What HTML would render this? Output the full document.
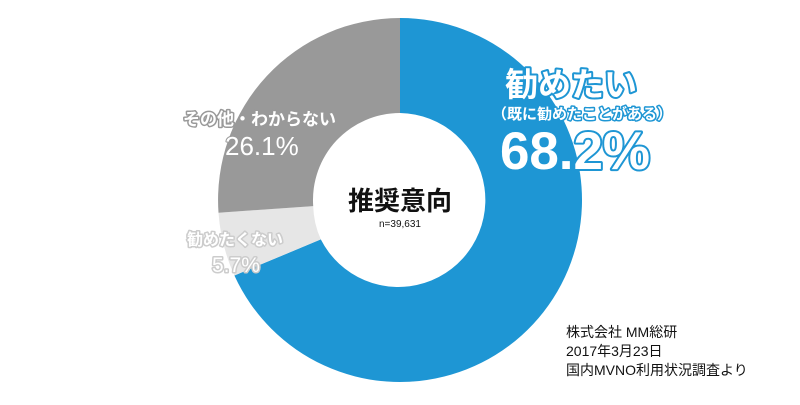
<!DOCTYPE html>
<html><head><meta charset="utf-8"><style>
body{margin:0;background:#fff;}
svg text{font-family:"Liberation Sans","Noto Sans CJK JP",sans-serif;}
</style></head><body>
<svg width="800" height="400" viewBox="0 0 800 400" xmlns="http://www.w3.org/2000/svg">
<path d="M400,18 A182,182 0 1,1 234.4,275.5 L320.8,239.4 A87,87 0 1,0 400,113 Z" fill="#1e96d4"/>
<path d="M234.4,275.5 A182,182 0 0,1 218.5,212.7 L313.2,206.1 A87,87 0 0,0 320.8,239.4 Z" fill="#e6e6e6"/>
<path d="M218.5,212.7 A182,182 0 0,1 400,18 L400,113 A87,87 0 0,0 313.2,206.1 Z" fill="#999999"/>
<g paint-order="stroke" stroke-linejoin="round" font-weight="bold">
<text x="505" y="96" font-size="33" fill="#fff" stroke="#1e96d4" stroke-width="4">勧めたい</text>
<text x="492" y="119" font-size="15" fill="#fff" stroke="#1e96d4" stroke-width="3">（既に勧めたことがある）</text>
<text x="500" y="169" font-size="53" fill="#fff" stroke="#1e96d4" stroke-width="4" textLength="150">68.2%</text>
<text x="183" y="125" font-size="17" fill="#fff" stroke="#999" stroke-width="3">その他・わからない</text>
<text x="225" y="155" font-size="26" fill="#fff" stroke="#999" stroke-width="2" font-weight="normal">26.1%</text>
<text x="187" y="245" font-size="16" fill="#fff" stroke="#ccc" stroke-width="3">勧めたくない</text>
<text x="212" y="272" font-size="21" fill="#fff" stroke="#ccc" stroke-width="3" font-weight="normal">5.7%</text>
</g>
<text x="400" y="210" font-size="26" font-weight="bold" text-anchor="middle" fill="#111">推奨意向</text>
<text x="400" y="227" font-size="10" text-anchor="middle" fill="#111">n=39,631</text>
<text x="566" y="337" font-size="14" fill="#111">株式会社 MM総研</text>
<text x="566" y="356" font-size="14" fill="#111">2017年3月23日</text>
<text x="566" y="375" font-size="14" fill="#111">国内MVNO利用状況調査より</text>
</svg>
</body></html>
